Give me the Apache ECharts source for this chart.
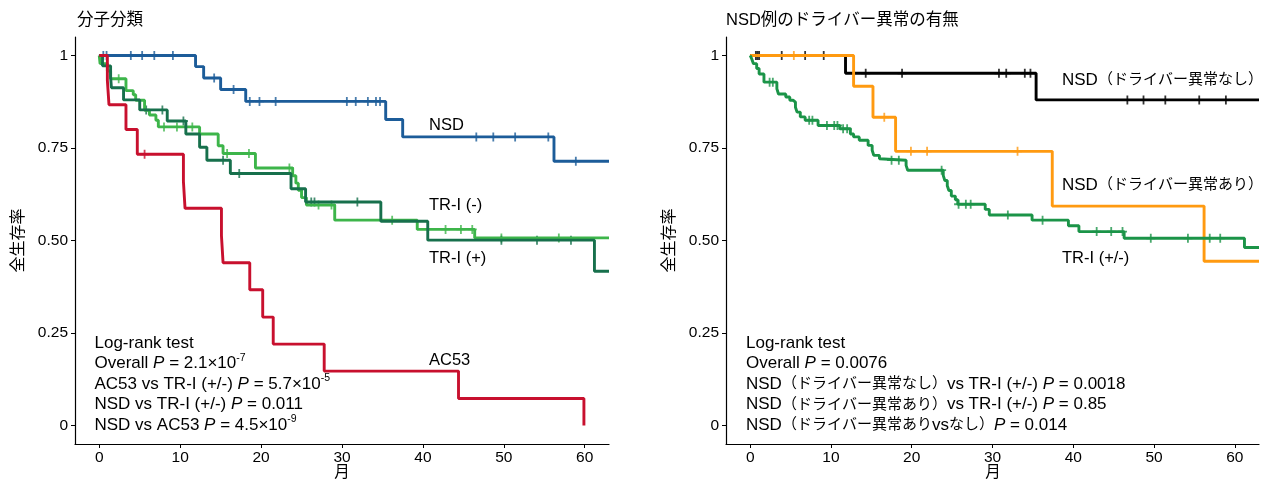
<!DOCTYPE html>
<html>
<head>
<meta charset="utf-8">
<script src="https://cdn.jsdelivr.net/npm/echarts@6/dist/echarts.min.js"></script>
<style>
  html, body { margin: 0; padding: 0; background: #fff; }
  #main { width: 1264px; height: 480px; }
</style>
</head>
<body>
<div id="main"></div>
<script>
const FONT = '"Liberation Sans", "Noto Sans CJK JP", sans-serif';

// axis ticks
const xTicks = [0, 10, 20, 30, 40, 50, 60];
const yTicks = [0, 0.25, 0.5, 0.75, 1];
const yTickLabels = ['0', '0.25', '0.50', '0.75', '1'];

// left panel: 分子分類  (time in months, survival)
const nsdSteps = [[0, 1], [11.9, 0.970], [12.9, 0.939], [15.0, 0.908], [18.1, 0.876], [35.4, 0.827], [37.5, 0.780], [56.2, 0.714], [63, 0.714]];
const nsdCensor = [0.5, 0.9, 3.9, 5.3, 6.8, 9.1, 14.2, 16.6, 18.6, 19.8, 21.8, 30.6, 31.7, 33.2, 34.2, 34.7, 46.6, 48.7, 51.4, 55.5, 58.9];

const trMinusSteps = [[0, 1], [0.1, 0.978], [1.0, 0.958], [1.4, 0.937], [3.3, 0.905], [4.2, 0.894], [4.5, 0.879], [5.6, 0.852], [6.2, 0.839], [7.0, 0.825], [7.3, 0.807], [12.4, 0.788], [14.7, 0.756], [15.3, 0.735], [19.3, 0.696], [23.9, 0.675], [24.3, 0.655], [24.6, 0.636], [25.0, 0.616], [25.6, 0.596], [29.1, 0.555], [39.3, 0.530], [46.4, 0.507], [63, 0.507]];
const trMinusCensor = [2.4, 8.0, 9.6, 11.5, 15.8, 18.5, 23.5, 27.1, 28.7, 36.2, 42.8, 44.7, 46.1, 49.7, 56.8];

const trPlusSteps = [[0, 1], [0.4, 0.972], [1.4, 0.942], [1.5, 0.913], [3.0, 0.880], [5.0, 0.853], [8.4, 0.823], [10.7, 0.788], [12.4, 0.752], [13.3, 0.717], [16.2, 0.681], [23.7, 0.640], [25.5, 0.604], [34.8, 0.552], [40.6, 0.501], [61.2, 0.417], [63, 0.417]];
const trPlusCensor = [5.8, 7.8, 10.4, 15.3, 17.3, 26.2, 26.6, 31.9, 49.7, 54.1, 58.3];

const ac53Steps = [[0, 1], [1.0, 0.933], [1.2, 0.867], [3.3, 0.800], [4.7, 0.733], [10.4, 0.660], [10.6, 0.587], [15.1, 0.513], [15.3, 0.440], [18.6, 0.367], [20.2, 0.293], [21.5, 0.220], [27.8, 0.147], [44.4, 0.073], [59.9, 0]];
const ac53Censor = [5.6];

// right panel: NSD例のドライバー異常の有無
const noDrvSteps = [[0, 1], [11.8, 0.952], [35.4, 0.880], [63, 0.880]];
const noDrvCensor = [0.7, 0.9, 1.1, 3.9, 6.8, 9.1, 14.3, 18.8, 30.8, 31.7, 34.0, 34.7, 46.7, 48.7, 51.4, 55.6, 58.9];

const drvSteps = [[0, 1], [12.8, 0.917], [15.2, 0.833], [18.0, 0.741], [37.4, 0.593], [56.2, 0.444], [63, 0.444]];
const drvCensor = [5.4, 16.6, 19.9, 21.9, 33.1];

const trAllSteps = [[0, 1], [0.2, 0.990], [0.4, 0.978], [0.8, 0.965], [1.1, 0.950], [1.7, 0.928], [3.3, 0.910], [3.5, 0.896], [4.4, 0.888], [4.9, 0.879], [5.3, 0.874], [5.6, 0.860], [5.8, 0.847], [6.2, 0.834], [6.8, 0.825], [8.4, 0.811], [11.1, 0.802], [12.4, 0.788], [12.8, 0.780], [13.5, 0.771], [14.6, 0.757], [15.1, 0.744], [15.3, 0.730], [16.0, 0.721], [16.2, 0.717], [19.3, 0.703], [19.5, 0.690], [23.9, 0.676], [24.1, 0.662], [24.4, 0.648], [24.6, 0.635], [24.9, 0.620], [25.4, 0.610], [25.7, 0.598], [29.1, 0.584], [29.6, 0.569], [34.9, 0.555], [39.4, 0.540], [40.7, 0.524], [46.3, 0.506], [61.2, 0.481], [63, 0.481]];
const trAllCensor = [2.4, 2.8, 7.3, 7.7, 9.5, 10.4, 10.8, 11.5, 12.0, 17.5, 18.4, 23.7, 25.8, 26.7, 27.3, 31.9, 36.2, 42.9, 44.7, 46.1, 49.6, 54.2, 56.9, 58.2];

const leftStats = [
  'Log-rank test',
  'Overall {i|P} = 2.1×10{sup|-7}',
  'AC53 vs TR-I (+/-) {i|P} = 5.7×10{sup|-5}',
  'NSD vs TR-I (+/-) {i|P} = 0.011',
  'NSD vs AC53 {i|P} = 4.5×10{sup|-9}'
];
const rightStats = [
  'Log-rank test',
  'Overall {i|P} = 0.0076',
  'NSD{j|（ドライバー異常なし）}vs TR-I (+/-) {i|P} = 0.0018',
  'NSD{j|（ドライバー異常あり）}vs TR-I (+/-) {i|P} = 0.85',
  'NSD{j|（ドライバー異常あり}vs{j|なし）}{i|P} = 0.014'
];

const PLUS = 'path://M4,0h2v4h4v2h-4v4h-2v-4h-4v-2h4z';

function stepAt(steps, t) {
  let v = steps[0][1];
  for (const p of steps) {
    if (p[0] <= t) v = p[1];
  }
  return v;
}

function curve(steps, color, idx) {
  return {
    type: 'line', step: 'end', data: steps, xAxisIndex: idx, yAxisIndex: idx,
    symbol: 'none', silent: true,
    lineStyle: { color: color, width: 2.9 }
  };
}

function marks(steps, times, color, idx) {
  return {
    type: 'scatter', xAxisIndex: idx, yAxisIndex: idx, silent: true,
    data: times.map(t => [t, stepAt(steps, t)]),
    symbol: PLUS, symbolSize: 9,
    itemStyle: { color: color }
  };
}

function xAxis(idx) {
  return {
    gridIndex: idx, type: 'value', min: -3, max: 63,
    axisLine: { onZero: false, lineStyle: { color: '#000', width: 1.2 } },
    axisTick: { customValues: xTicks, length: 4, lineStyle: { color: '#000', width: 1 } },
    axisLabel: { customValues: xTicks, color: '#000', fontSize: 15.5, margin: 6, fontFamily: FONT },
    splitLine: { show: false }
  };
}

function yAxis(idx) {
  return {
    gridIndex: idx, type: 'value', min: -0.05, max: 1.05,
    name: '全生存率', nameLocation: 'middle', nameGap: 48,
    nameTextStyle: { color: '#000', fontSize: 16, fontFamily: FONT },
    axisLine: { onZero: false, lineStyle: { color: '#000', width: 1.2 } },
    axisTick: { customValues: yTicks, length: 4, lineStyle: { color: '#000', width: 1 } },
    axisLabel: {
      customValues: yTicks, color: '#000', fontSize: 15.5, margin: 7, fontFamily: FONT,
      formatter: v => yTickLabels[yTicks.indexOf(v)]
    },
    splitLine: { show: false }
  };
}

const rich = {
  i: { fontStyle: 'italic', fontSize: 17, fontFamily: FONT, lineHeight: 22, verticalAlign: 'middle' },
  j: { fontSize: 15, fontFamily: FONT, lineHeight: 22, verticalAlign: 'middle' },
  sup: { fontSize: 10.5, fontFamily: FONT, lineHeight: 10, verticalAlign: 'top' }
};

function textEl(x, y, text, size, align) {
  return {
    type: 'text', x: x, y: y, silent: true,
    style: {
      text: text, rich: rich, fill: '#000', fontSize: size, fontFamily: FONT,
      lineHeight: 22, verticalAlign: 'middle', align: align || 'left'
    }
  };
}

const lineY = [343, 363.5, 384, 404.5, 425];
const graphics = [];
leftStats.forEach((s, i) => graphics.push(textEl(94.5, lineY[i], s, 17)));
rightStats.forEach((s, i) => graphics.push(textEl(746, lineY[i], s, 17)));
graphics.push(textEl(429, 125, 'NSD', 16.5));
graphics.push(textEl(429, 205, 'TR-I (-)', 16.5));
graphics.push(textEl(429, 258, 'TR-I (+)', 16.5));
graphics.push(textEl(429, 360, 'AC53', 16.5));
graphics.push(textEl(1062, 80, 'NSD{j|（ドライバー異常なし）}', 17));
graphics.push(textEl(1062, 185, 'NSD{j|（ドライバー異常あり）}', 17));
graphics.push(textEl(1062, 258, 'TR-I (+/-)', 16.5));
// x axis titles
graphics.push(textEl(342, 473, '月', 15.5, 'center'));
graphics.push(textEl(993, 473, '月', 15.5, 'center'));

const BLUE = '#1c5c99', LGREEN = '#3db54a', DGREEN = '#17704c', RED = '#c8102e';
const BLACK = '#000000', ORANGE = '#ff9a10', GREEN = '#1b9448';

let option = {
  animation: false,
  backgroundColor: '#fff',
  title: [
    { text: '分子分類', left: 77, top: 12, padding: 0, textStyle: { fontSize: 16.5, fontWeight: 'normal', color: '#000', fontFamily: FONT } },
    { text: 'NSD例のドライバー異常の有無', left: 726, top: 12, padding: 0, textStyle: { fontSize: 16.5, fontWeight: 'normal', color: '#000', fontFamily: FONT } }
  ],
  grid: [
    { left: 75, top: 37, width: 534, height: 407, outerBoundsMode: 'none' },
    { left: 726, top: 37, width: 533, height: 407, outerBoundsMode: 'none' }
  ],
  xAxis: [xAxis(0), xAxis(1)],
  yAxis: [yAxis(0), yAxis(1)],
  series: [
    curve(nsdSteps, BLUE, 0),
    curve(trMinusSteps, LGREEN, 0),
    curve(trPlusSteps, DGREEN, 0),
    curve(ac53Steps, RED, 0),
    marks(nsdSteps, nsdCensor, BLUE, 0),
    marks(trMinusSteps, trMinusCensor, LGREEN, 0),
    marks(trPlusSteps, trPlusCensor, DGREEN, 0),
    marks(ac53Steps, ac53Censor, RED, 0),
    curve(noDrvSteps, BLACK, 1),
    curve(drvSteps, ORANGE, 1),
    curve(trAllSteps, GREEN, 1),
    marks(noDrvSteps, noDrvCensor, BLACK, 1),
    marks(drvSteps, drvCensor, ORANGE, 1),
    marks(trAllSteps, trAllCensor, GREEN, 1)
  ],
  graphic: graphics
};

const chart = echarts.init(document.getElementById('main'), null, { renderer: 'canvas' });
chart.setOption(option);
</script>
</body>
</html>
